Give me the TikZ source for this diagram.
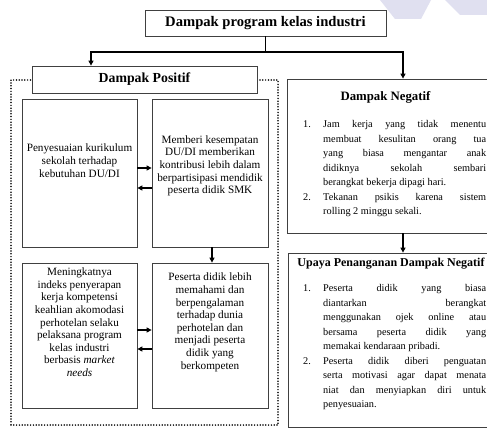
\documentclass[tikz,border=0pt]{standalone}
\usepackage{fontspec}
\setmainfont{Liberation Serif}
\usetikzlibrary{arrows.meta}
\tikzset{
    box/.style={draw=black!75, line width=0.8pt, fill=white, inner sep=0pt},
    headbox/.style={box, font=\bfseries\fontsize{13.8}{15}\selectfont},
    posbox/.style={box, align=center, font=\fontsize{11.2}{12.6}\selectfont},
    negtext/.style={inner sep=0pt, anchor=north west, text width=183pt,
        align=justify, font=\fontsize{10.3}{14.5}\selectfont},
    negtitle/.style={inner sep=0pt, font=\bfseries\fontsize{12}{13}\selectfont},
    dotframe/.style={draw=black, line width=1.7pt, dash pattern=on 0pt off 2.8pt,
        line cap=round, inner sep=0pt},
    link/.style={line width=1.2pt, -{Triangle[length=5pt,width=5pt]}},
    bar/.style={line width=1.2pt}
}
\newcommand{\listitem}[2]{\par\noindent\hangindent=20pt\hangafter=1
    \makebox[20pt][l]{#1}#2\par}

\begin{document}
\begin{tikzpicture}[x=1pt, y=-1pt]
  \clip (0,0) rectangle (487,428);
  \fill [white] (0,0) rectangle (487,428);
  % faint shapes in the corner
  \fill [blue!35!gray!18] (380,0) -- (431,0) -- (421,19) -- (395,19) -- cycle;
  \fill [blue!35!gray!18] (445,0) -- (487,0) -- (487,15) -- (460,15) -- cycle;

  \node (title) [headbox, minimum width=241pt, minimum height=26pt, font=\bfseries\fontsize{14.6}{16}\selectfont] at (265.5,23) {Dampak program kelas industri};
  \coordinate (split) at (265.5,52);
  \coordinate (leftturn) at (91,52);
  \coordinate (rightturn) at (403,52);

  % positive side
  \node (posframe) [dotframe, minimum width=267pt, minimum height=345pt] at (144.5,252.5) {};
  \node (pos) [headbox, minimum width=225pt, minimum height=27pt] at (144.5,79.5) {Dampak Positif};
  \node (kurikulum) [posbox, minimum width=115pt, minimum height=148pt] at (79.5,173)
      {Penyesuaian kurikulum\\ sekolah terhadap\\ kebutuhan DU/DI\\[12pt]};
  \node (kontribusi) [posbox, minimum width=116pt, minimum height=148pt] at (210,173)
      {Memberi kesempatan\\ DU/DI memberikan\\ kontribusi lebih dalam\\ berpartisipasi mendidik\\ peserta didik SMK\\[4pt]};
  \node (serapan) [posbox, minimum width=115pt, minimum height=145pt] at (79.5,335.5)
      {Meningkatnya\\ indeks penyerapan\\ kerja kompetensi\\ keahlian akomodasi\\ perhotelan selaku\\ pelaksana program\\ kelas industri\\ berbasis \textit{market}\\ \textit{needs}\\[14pt]};
  \node (peserta) [posbox, minimum width=116pt, minimum height=145pt] at (210,335.5)
      {Peserta didik lebih\\ memahami dan\\ berpengalaman\\ terhadap dunia\\ perhotelan dan\\ menjadi peserta\\ didik yang\\ berkompeten\\[16pt]};

  % negative side
  \node (neg) [box, minimum width=205pt, minimum height=154pt] at (389.5,156) {};
  \node (negname) [negtitle, font=\bfseries\fontsize{12.8}{14}\selectfont] at (385.5,97) {Dampak Negatif};
  \node (negitems) [negtext] at (303,113) {%
    \listitem{1.}{Jam kerja yang tidak menentu\linebreak membuat kesulitan orang tua\linebreak yang biasa mengantar anak\linebreak didiknya sekolah sembari\linebreak berangkat bekerja dipagi hari.}%
    \listitem{2.}{Tekanan psikis karena sistem\linebreak rolling 2 minggu sekali.}};
  \node (upaya) [box, minimum width=204pt, minimum height=174pt] at (390,340) {};
  \node (upayaname) [negtitle] at (391,264) {Upaya Penanganan Dampak Negatif};
  \node (upayaitems) [negtext] at (303,277) {%
    \listitem{1.}{Peserta didik yang biasa\linebreak diantarkan berangkat\linebreak menggunakan ojek online atau\linebreak bersama peserta didik yang\linebreak memakai kendaraan pribadi.}%
    \listitem{2.}{Peserta didik diberi penguatan\linebreak serta motivasi agar dapat menata\linebreak niat dan menyiapkan diri untuk\linebreak penyesuaian.}};

  % connectors
  \draw [bar] (title.south) -- (split);
  \draw [link] (split) -- (leftturn) -- (leftturn |- pos.north);
  \draw [link] (split) -- (rightturn) -- (rightturn |- neg.north);
  \draw [link] ([yshift=5pt]kurikulum.east) -- ([yshift=5pt]kontribusi.west);
  \draw [link] ([yshift=-15pt]kontribusi.west) -- ([yshift=-15pt]kurikulum.east);
  \draw [link] ([xshift=2pt]kontribusi.south) -- ([xshift=2pt]peserta.north);
  \draw [link] ([yshift=5.5pt]serapan.east) -- ([yshift=5.5pt]peserta.west);
  \draw [link] ([yshift=-13.5pt]peserta.west) -- ([yshift=-13.5pt]serapan.east);
  \draw [link] (rightturn |- neg.south) -- (rightturn |- upaya.north);
\end{tikzpicture}
\end{document}
